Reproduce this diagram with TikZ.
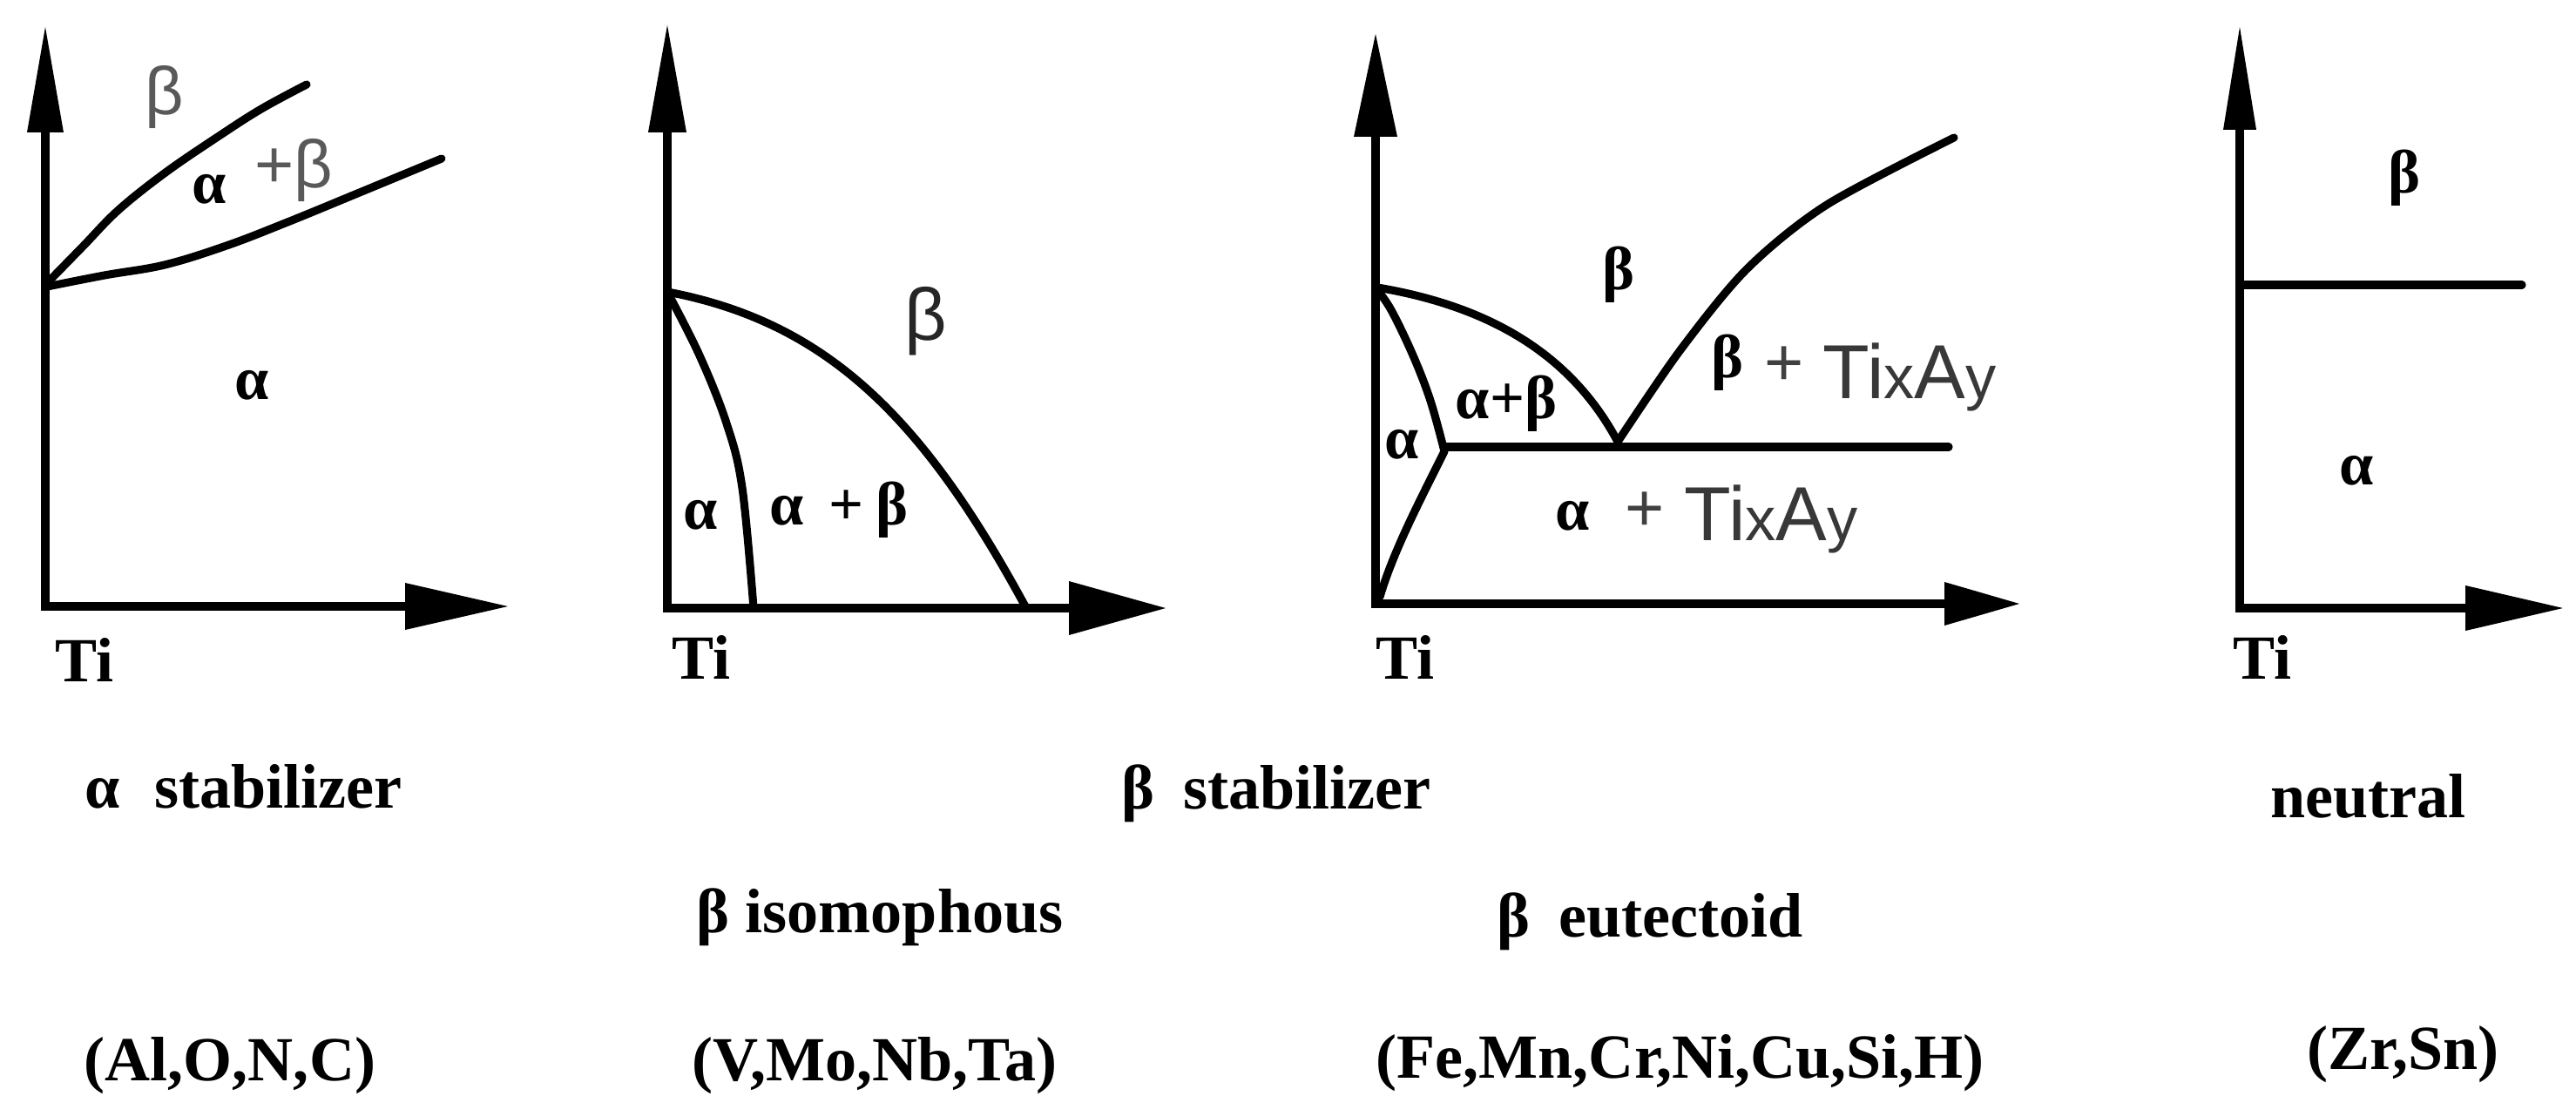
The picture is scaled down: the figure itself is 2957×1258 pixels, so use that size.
\documentclass[tikz,border=0pt]{standalone}
\usepackage{fontspec}
\setmainfont{Liberation Serif}
\newfontfamily\sansf{Liberation Sans}
\newcommand\TiXAy{{\fontsize{25pt}{25pt}\selectfont Ti}{\fontsize{20pt}{20pt}\selectfont x}{\fontsize{25pt}{25pt}\selectfont A}{\fontsize{20pt}{20pt}\selectfont y}}
\tikzset{
  axisline/.style={line width=3.1pt, line join=miter},
  bound/.style={line width=2.6pt, line cap=round, line join=round},
  lbl/.style={inner sep=0pt, font=\bfseries\fontsize{20pt}{24pt}\selectfont},
  gsans/.style={inner sep=0pt, text=black!65, font=\sansf\fontsize{22pt}{24pt}\selectfont},
  dsans/.style={inner sep=0pt, text=black!85, font=\sansf\fontsize{24pt}{26pt}\selectfont},
  gplus/.style={inner sep=0pt, text=black!75, font=\sansf\fontsize{22pt}{24pt}\selectfont},
  tixay/.style={inner sep=0pt, anchor=base west, text=black!78, font=\sansf},
  caption/.style={inner sep=0pt, anchor=base west, font=\bfseries\fontsize{20.5pt}{24pt}\selectfont},
}
\begin{document}
\begin{tikzpicture}[x=0.01cm,y=-0.01cm]
\useasboundingbox (0,0) rectangle (2957,1258);
\fill[white] (0,0) rectangle (2957,1258);

% ---------- panel 1 : alpha stabilizer ----------
\draw[axisline] (52,152) -- (52,696) -- (465,696);
\fill (31,152) -- (52,31) -- (73,152) -- cycle;
\fill (465,669) -- (583,696) -- (465,723) -- cycle;
\draw[bound] plot[smooth, tension=0.6] coordinates {(52,327) (95,283) (136,241) (190,198) (250,157) (300,125) (352,97)};
\draw[bound] plot[smooth, tension=0.6] coordinates {(54,329) (120,316) (189,304) (260,282) (330,255) (420,218) (507,182)};
\node[gsans] (p1b) at (189,112) {β};
\node[lbl] (p1ab) at (240,217) {α};
\node[gsans, anchor=west] (p1pb) at (292,196) {+β};
\node[lbl] (p1a) at (289,442) {α};
\node[caption] (p1ti) at (63,782) {Ti};

% ---------- panel 2 : beta isomorphous ----------
\draw[axisline] (766,152) -- (766,698) -- (1227,698);
\fill (744,152) -- (766,29) -- (788,152) -- cycle;
\fill (1227,667) -- (1338,698) -- (1227,729) -- cycle;
\draw[bound] plot[smooth, tension=0.6] coordinates {(766,335) (803,408) (834,486) (852,560) (865,698)};
\draw[bound] (766,335) .. controls (950,370) and (1060,480) .. (1178,698);
\node[dsans] (p2b) at (1063,369) {β};
\node[lbl] (p2a) at (804,591) {α};
\node[lbl, anchor=west] (p2ab) at (883,585) {α\hspace{0.4em}+\hspace{0.2em}β};
\node[caption] (p2ti) at (771,779) {Ti};

% ---------- panel 3 : beta eutectoid ----------
\draw[axisline] (1579,157) -- (1579,693) -- (2232,693);
\fill (1554,157) -- (1579,39) -- (1604,157) -- cycle;
\fill (2232,668) -- (2318,693) -- (2232,718) -- cycle;
\draw[bound] plot[smooth, tension=0.6] coordinates {(1579,330) (1597,356) (1622,408) (1642,460) (1658,518)};
\draw[bound] (1658,518) .. controls (1635,565) and (1600,630) .. (1584,685);
\draw[bound] (1658,513) -- (2237,513);
\draw[bound] (1581,330) .. controls (1700,350) and (1800,400) .. (1857,507);
\draw[bound] plot[smooth, tension=0.5] coordinates {(1857,507) (1928,403) (2005,309) (2097,235) (2243,158)};
\node[lbl] (p3b) at (1858,315) {β};
\node[lbl] (p3ab) at (1729,463) {α+β};
\node[lbl] (p3a) at (1609,510) {α};
\node[lbl] (p3bt) at (1983,416) {β};
\node[gplus] (p3p1) at (2048,420) {+};
\node[tixay] (p3t1) at (2092,458) {\TiXAy};
\node[lbl] (p3at) at (1805,592) {α};
\node[gplus] (p3p2) at (1888,587) {+};
\node[tixay] (p3t2) at (1933,620) {\TiXAy};
\node[caption] (p3ti) at (1579,779) {Ti};

% ---------- panel 4 : neutral ----------
\draw[axisline] (2571,149) -- (2571,698) -- (2830,698);
\fill (2552,149) -- (2571,31) -- (2590,149) -- cycle;
\fill (2830,672) -- (2942,698) -- (2830,724) -- cycle;
\draw[bound] (2571,327) -- (2895,327);
\node[lbl] (p4b) at (2760,204) {β};
\node[lbl] (p4a) at (2705,540) {α};
\node[caption] (p4ti) at (2563,779) {Ti};

% ---------- captions ----------
\node[caption] (c1) at (97,927) {α\hspace{0.55em}stabilizer};
\node[caption] (c2) at (1287,928) {β\hspace{0.45em}stabilizer};
\node[caption] (c3) at (2606,938) {neutral};
\node[caption] (c4) at (799,1070) {β isomophous};
\node[caption] (c5) at (1718,1075) {β\hspace{0.45em}eutectoid};
\node[caption] (e1) at (96,1240) {(Al,O,N,C)};
\node[caption] (e2) at (794,1240) {(V,Mo,Nb,Ta)};
\node[caption] (e3) at (1579,1237) {(Fe,Mn,Cr,Ni,Cu,Si,H)};
\node[caption] (e4) at (2648,1227) {(Zr,Sn)};
\end{tikzpicture}
\end{document}
